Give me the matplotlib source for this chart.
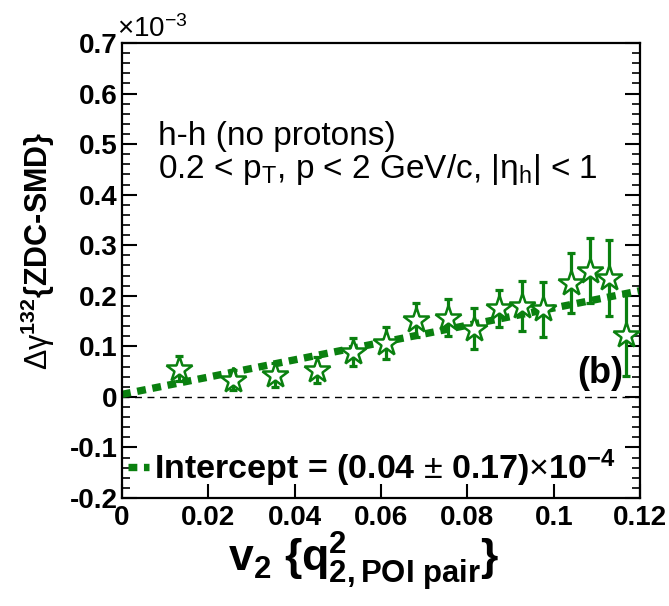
"""
Delta gamma^132 {ZDC-SMD} vs v2 for h-h pairs (no protons), panel (b).
"""

import matplotlib
matplotlib.use("Agg")
import matplotlib.pyplot as plt
from matplotlib.ticker import FixedLocator, FixedFormatter, MultipleLocator

# values in units of 1e-3
v2 = [0.0133, 0.0256, 0.0354, 0.0451, 0.0534, 0.0611, 0.0681, 0.0756,
      0.0816, 0.0874, 0.0926, 0.0976, 0.1040, 0.1083, 0.1127, 0.1168]
dgamma = [0.056, 0.033, 0.043, 0.053, 0.089, 0.107, 0.152, 0.157,
          0.135, 0.175, 0.180, 0.173, 0.225, 0.250, 0.236, 0.122]
dgamma_err = [0.024, 0.020, 0.024, 0.025, 0.028, 0.032, 0.034, 0.037,
              0.040, 0.036, 0.050, 0.054, 0.060, 0.065, 0.075, 0.080]

fit_x = [0.0, 0.12]
fit_y = [0.005, 0.210]

x_ticks = [0, 0.02, 0.04, 0.06, 0.08, 0.1, 0.12]
x_ticklabels = ["0", "0.02", "0.04", "0.06", "0.08", "0.1", "0.12"]
y_ticks = [-0.2, -0.1, 0, 0.1, 0.2, 0.3, 0.4, 0.5, 0.6, 0.7]
y_ticklabels = ["-0.2", "-0.1", "0", "0.1", "0.2", "0.3", "0.4", "0.5", "0.6", "0.7"]

GREEN = "#0a800f"

plt.rcParams["font.family"] = ["Liberation Sans", "DejaVu Sans"]
plt.rcParams["mathtext.fontset"] = "custom"
plt.rcParams["mathtext.rm"] = "Liberation Sans"
plt.rcParams["mathtext.it"] = "Liberation Sans:italic"
plt.rcParams["mathtext.bf"] = "Liberation Sans:bold"

fig = plt.figure(figsize=(6.69, 6.06), dpi=100)
ax = fig.add_axes([0.1824, 0.1782, 0.7743, 0.7508])

ax.set_xlim(0, 0.12)
ax.set_ylim(-0.2, 0.7)

ax.axhline(0, color="black", lw=1.0, dashes=(5, 4), zorder=1)

fit_line, = ax.plot(fit_x, fit_y, color=GREEN, lw=5.3, linestyle=(0, (1.2, 0.9)),
                    solid_capstyle="butt", zorder=2)

ax.errorbar(v2, dgamma, yerr=dgamma_err, fmt="none", ecolor=GREEN,
            elinewidth=2.3, capsize=3.2, capthick=2.3, zorder=3)
ax.plot(v2, dgamma, linestyle="none", marker="*", ms=19, mfc="white",
        mec=GREEN, mew=1.8, zorder=4)

ax.xaxis.set_major_locator(FixedLocator(x_ticks))
ax.xaxis.set_major_formatter(FixedFormatter(x_ticklabels))
ax.yaxis.set_major_locator(FixedLocator(y_ticks))
ax.yaxis.set_major_formatter(FixedFormatter(y_ticklabels))
ax.yaxis.set_minor_locator(MultipleLocator(0.02))

ax.tick_params(axis="both", which="major", direction="in", width=1.5,
               labelsize=20)
ax.tick_params(axis="x", which="major", length=10, pad=5, top=False)
ax.tick_params(axis="y", which="major", length=11, pad=3, right=True)
ax.tick_params(axis="y", which="minor", direction="in", length=6, width=1.2,
               right=True)
for lab in ax.get_xticklabels() + ax.get_yticklabels():
    lab.set_fontweight("bold")
for sp in ax.spines.values():
    sp.set_linewidth(1.6)

ax.set_xlabel(r"$\mathbf{v_{2}\ \{q^{2}_{2,POI\ pair}\}}$", fontsize=32)
ax.xaxis.set_label_coords(0.467, -0.07)
ax.set_ylabel(r"$\mathrm{\Delta\gamma}^{\mathbf{132}}${ZDC-SMD}",
              fontsize=22, fontweight="bold")
ax.yaxis.set_label_coords(-0.125, 0.543)

ax.text(-0.01, 1.0, r"$\times$10$^{-3}$", transform=ax.transAxes,
        fontsize=20, ha="left", va="bottom")

ax.text(0.0695, 0.776, "h-h (no protons)", transform=ax.transAxes,
        fontsize=24, ha="left", va="baseline")
ax.text(0.0695, 0.703,
        r"0.2 < p$_{\mathrm{T}}$, p < 2 GeV/c, |η$_{\mathrm{h}}$| < 1",
        transform=ax.transAxes, fontsize=24, ha="left", va="baseline")

ax.text(0.967, 0.253, "(b)", transform=ax.transAxes, fontsize=26,
        fontweight="bold", ha="right", va="baseline")

ax.legend([fit_line],
          [r"Intercept = (0.04 $\pm$ 0.17)$\times$10$^{\mathbf{-4}}$"],
          loc="lower left", bbox_to_anchor=(0.012, 0.02), borderaxespad=0,
          borderpad=0, frameon=False, handlelength=0.6, handletextpad=0.15,
          prop={"size": 24.5, "weight": "bold"})

fig.savefig("out.png", dpi=100, facecolor="white")
plt.close(fig)
print("Wrote out.png")
